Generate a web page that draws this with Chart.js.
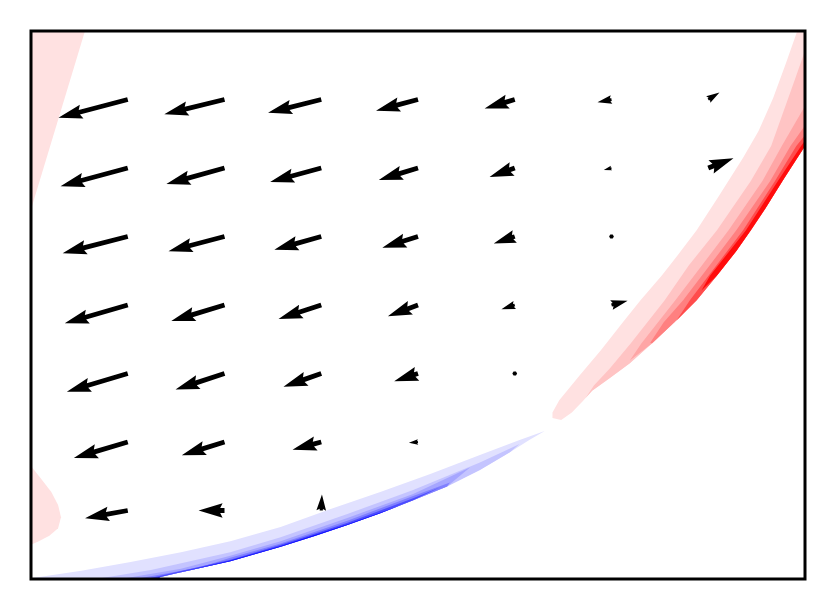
<!DOCTYPE html>
<html>
<head>
<meta charset="utf-8">
<script src="https://cdn.jsdelivr.net/npm/chart.js@4.4.0/dist/chart.umd.min.js"></script>
<style>
  body { margin: 0; background: #fff; }
  canvas { display: block; }
</style>
</head>
<body>
<canvas id="chart" width="835" height="610"></canvas>
<script>
// quiver grid
const gridX = [1, 2, 3, 4, 5, 6, 7];
const gridY = [7, 6, 5, 4, 3, 2, 1];

// vector components, one row per gridY value (null = masked)
const U = [
  [-0.99, -0.86, -0.76, -0.60, -0.43, -0.20, 0.16],
  [-0.96, -0.83, -0.73, -0.56, -0.36, -0.11, 0.36],
  [-0.93, -0.80, -0.67, -0.51, -0.30, 0.005, null],
  [-0.90, -0.76, -0.61, -0.43, -0.19, 0.23, null],
  [-0.87, -0.70, -0.54, -0.34, 0.005, null, null],
  [-0.77, -0.61, -0.41, -0.13, null, null, null],
  [-0.61, -0.37, 0.01, null, null, null, null]
];
const V = [
  [-0.26, -0.21, -0.19, -0.16, -0.13, -0.04, 0.10],
  [-0.26, -0.23, -0.20, -0.17, -0.13, -0.03, 0.14],
  [-0.24, -0.21, -0.19, -0.16, -0.10, 0.0, null],
  [-0.26, -0.23, -0.20, -0.16, -0.06, 0.06, null],
  [-0.26, -0.23, -0.19, -0.11, 0.0, null, null],
  [-0.23, -0.19, -0.11, -0.01, null, null, null],
  [-0.11, 0.0, 0.23, null, null, null, null]
];

// contour lines (x, y) of the positive (red) region, outer level first
const redLevel1 = [[7.99, 8.29], [7.92, 8.00], [7.80, 7.52], [7.67, 7.02], [7.52, 6.54], [7.36, 6.15], [7.10, 5.57], [6.88, 5.09], [6.68, 4.72], [6.52, 4.43], [6.30, 4.07], [6.13, 3.77], [5.89, 3.34], [5.67, 2.97], [5.46, 2.61], [5.39, 2.43], [5.39, 2.35]];
const redLevel2 = [[8.25, 8.44], [8.00, 7.71], [7.89, 7.27], [7.65, 6.32], [7.44, 5.81], [7.09, 5.09], [6.80, 4.58], [6.55, 4.07], [6.20, 3.44], [5.98, 3.07], [5.82, 2.83], [5.73, 2.64]];
const redLevel3 = [[8.35, 7.85], [8.03, 6.98], [7.76, 6.32], [7.56, 5.81], [7.21, 5.09], [6.92, 4.55], [6.66, 4.07], [6.31, 3.44], [6.19, 3.19]];
const redLevel4 = [[8.25, 6.98], [8.00, 6.62], [7.85, 6.32], [7.64, 5.81], [7.29, 5.09], [7.00, 4.55], [6.74, 4.07], [6.54, 3.75], [6.40, 3.45]];
const redLevel5 = [[8.20, 6.83], [7.91, 6.32], [7.69, 5.81], [7.36, 5.09], [7.07, 4.55], [6.81, 4.07], [6.67, 3.77]];
const redLevel6 = [[8.14, 6.69], [7.96, 6.32], [7.72, 5.81], [7.39, 5.09], [7.21, 4.77], [7.02, 4.43], [6.93, 4.21]];
// where the red region ends (beyond the top level)
const redEdge = [[5.48, 2.32], [5.59, 2.43], [5.70, 2.59], [5.80, 2.75], [5.98, 2.93], [6.19, 3.15], [6.42, 3.44], [6.65, 3.75], [6.88, 4.07], [7.09, 4.43], [7.29, 4.79], [7.44, 5.09], [7.59, 5.41], [7.78, 5.84], [8.00, 6.32], [8.25, 6.91], [8.76, 8.44]];

// contour lines of the negative (blue) region
const blueLevel1 = [[-0.15, 0.00], [0.00, 0.01], [0.52, 0.12], [1.03, 0.25], [1.55, 0.39], [2.06, 0.55], [2.58, 0.76], [3.09, 1.02], [3.61, 1.27], [4.12, 1.53], [4.64, 1.81], [5.05, 2.03], [5.31, 2.16]];
const blueLevel2 = [[0.31, -0.16], [0.72, 0.01], [1.24, 0.13], [2.06, 0.39], [2.58, 0.61], [3.27, 0.95], [3.95, 1.30], [4.64, 1.70], [5.05, 1.97]];
const blueLevel3 = [[0.62, -0.16], [0.93, 0.00], [1.55, 0.15], [2.06, 0.34], [2.58, 0.55], [3.27, 0.89], [3.95, 1.24], [4.54, 1.63]];
const blueLevel4 = [[0.82, -0.16], [1.08, 0.00], [1.75, 0.17], [2.06, 0.31], [2.58, 0.52], [3.27, 0.85], [3.95, 1.21], [4.33, 1.41]];
const blueLevel5 = [[0.98, -0.16], [1.19, 0.00], [2.06, 0.28], [2.58, 0.50], [3.27, 0.82], [3.95, 1.18], [4.23, 1.34]];
const blueLevel6 = [[1.13, -0.16], [1.34, 0.03], [2.06, 0.27], [2.58, 0.48], [3.27, 0.80], [3.81, 1.07]];
const blueEdge = [[5.31, 2.16], [5.15, 2.03], [4.95, 1.85], [4.64, 1.59], [4.30, 1.35], [3.95, 1.15], [3.61, 0.96], [3.27, 0.79], [2.94, 0.63], [2.58, 0.47], [2.06, 0.26], [1.55, 0.10], [1.24, 0.00], [1.19, -0.31], [-0.21, -0.31]];

// small positive patches on the left side
const pinkTop = [[-0.10, 8.15], [0.59, 8.15], [-0.02, 5.30], [-0.10, 5.30]];
const pinkBump = [[-0.10, 1.73], [0.00, 1.65], [0.10, 1.47], [0.21, 1.27], [0.28, 1.08], [0.31, 0.90], [0.28, 0.74], [0.19, 0.63], [0.08, 0.55], [0.00, 0.50], [-0.10, 0.45]];

const redColors = ['#ffe1e1', '#ffc4c4', '#ffa6a6', '#ff8080', '#ff4c4c', '#ff0c0c'];
const blueColors = ['#e1e1ff', '#c4c4ff', '#a6a6ff', '#8080ff', '#4c4cff', '#0c0cff'];

const redLevels = [redLevel1, redLevel2, redLevel3, redLevel4, redLevel5, redLevel6];
const blueLevels = [blueLevel1, blueLevel2, blueLevel3, blueLevel4, blueLevel5, blueLevel6];

function toPoints(arr) {
  return arr.map(p => ({ x: p[0], y: p[1] }));
}

function shape(points, color, order) {
  const pts = toPoints(points);
  pts.push(pts[0]);
  return {
    data: pts,
    showLine: true,
    fill: 'shape',
    backgroundColor: color,
    borderColor: 'rgba(0,0,0,0)',
    borderWidth: 0,
    pointRadius: 0,
    tension: 0,
    order: order
  };
}

const datasets = [];
redLevels.forEach((line, i) => {
  const tipX = line[line.length - 1][0];
  datasets.push(shape(line.concat(redEdge.filter(p => p[0] > tipX)), redColors[i], 20 - i));
});
blueLevels.forEach((line, i) => {
  const tipX = line[line.length - 1][0];
  datasets.push(shape(line.concat(blueEdge.filter(p => p[0] < tipX)), blueColors[i], 20 - i));
});
datasets.push(shape(pinkTop, redColors[0], 20));
datasets.push(shape(pinkBump, redColors[0], 20));

// matplotlib-like quiver arrows
const quiverPlugin = {
  id: 'quiver',
  afterDatasetsDraw(chart) {
    const { ctx, chartArea, scales: { x, y } } = chart;
    const w = 0.0062 * (chartArea.right - chartArea.left);
    const pxPerUnit = 70;
    const hl = 5, hal = 4.5, hw = 3;
    ctx.save();
    ctx.fillStyle = '#000';
    for (let r = 0; r < gridY.length; r++) {
      for (let c = 0; c < gridX.length; c++) {
        const u = U[r][c], v = V[r][c];
        if (u === null || v === null) continue;
        const x0 = x.getPixelForValue(gridX[c]);
        const y0 = y.getPixelForValue(gridY[r]);
        const L = Math.hypot(u, v) * pxPerUnit / w;
        const ang = Math.atan2(-v, u);
        let pts;
        if (L < 1) {
          pts = [];
          for (let k = 0; k < 6; k++) {
            pts.push([0.5 * Math.cos(k * Math.PI / 3), 0.5 * Math.sin(k * Math.PI / 3)]);
          }
        } else if (L < hl) {
          const s = L / hl;
          pts = [[0, 0.5], [hl - hal, 0.5], [0, hw / 2], [hl, 0], [0, -hw / 2], [hl - hal, -0.5], [0, -0.5]]
            .map(p => [p[0] * s, p[1] * s]);
        } else {
          pts = [[0, 0.5], [L - hal, 0.5], [L - hl, hw / 2], [L, 0], [L - hl, -hw / 2], [L - hal, -0.5], [0, -0.5]];
        }
        const cos = Math.cos(ang), sin = Math.sin(ang);
        ctx.beginPath();
        pts.forEach((p, i) => {
          const px = x0 + w * (p[0] * cos - p[1] * sin);
          const py = y0 + w * (p[0] * sin + p[1] * cos);
          if (i === 0) ctx.moveTo(px, py); else ctx.lineTo(px, py);
        });
        ctx.closePath();
        ctx.fill();
      }
    }
    ctx.restore();
  }
};

const framePlugin = {
  id: 'frame',
  afterDraw(chart) {
    const { ctx, chartArea: a } = chart;
    ctx.save();
    ctx.strokeStyle = '#000';
    ctx.lineWidth = 3;
    ctx.strokeRect(a.left, a.top, a.right - a.left, a.bottom - a.top);
    ctx.restore();
  }
};

new Chart(document.getElementById('chart').getContext('2d'), {
  type: 'scatter',
  data: { datasets: datasets },
  options: {
    responsive: false,
    animation: false,
    layout: { padding: { left: 31, top: 31, right: 30, bottom: 31 } },
    scales: {
      x: { type: 'linear', min: 0, max: 8, display: false },
      y: { type: 'linear', min: 0, max: 8, display: false }
    },
    plugins: {
      legend: { display: false },
      tooltip: { enabled: false }
    }
  },
  plugins: [quiverPlugin, framePlugin]
});
</script>
</body>
</html>
